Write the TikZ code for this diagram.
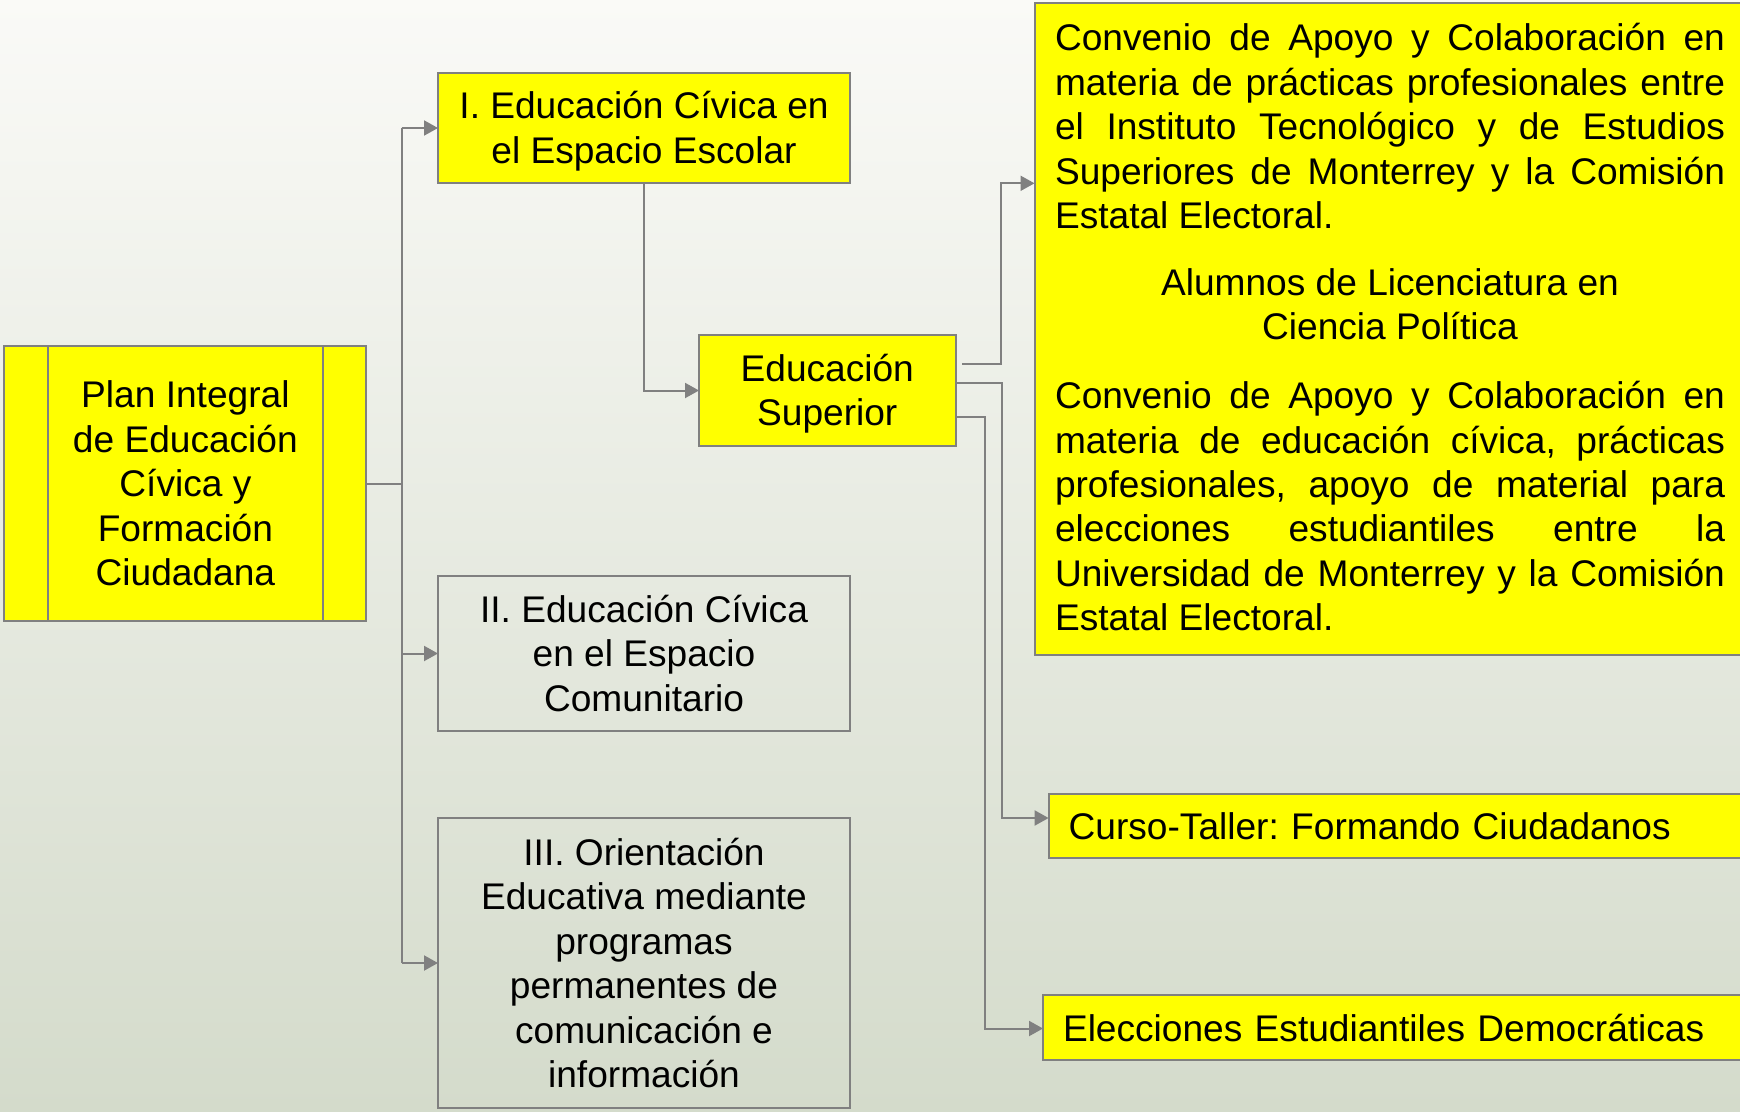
\documentclass[tikz,border=0pt]{standalone}
\usepackage{fontspec}
\setmainfont{Liberation Sans}
\usetikzlibrary{arrows.meta,calc}
\definecolor{bgtop}{RGB}{250,250,247}
\definecolor{bgbot}{RGB}{212,219,203}
\definecolor{linegray}{RGB}{128,128,128}
\definecolor{boxyellow}{RGB}{255,255,0}
\newcommand{\pst}{\rule[-0.212em]{0pt}{1.117em}}
\tikzset{
  base/.style={draw=linegray, line width=2pt, inner sep=0pt, outer sep=0pt, anchor=north west,
    font=\fontsize{37.1pt}{44.4pt}\selectfont\frenchspacing, text=black},
  ybox/.style={base, fill=boxyellow},
  gbox/.style={base},
  ln/.style={draw=linegray, line width=2pt},
  arr/.style={ln, -{Triangle[length=14pt,width=15pt]}},
}
\begin{document}
\begin{tikzpicture}[x=1pt,y=-1pt]
\fill[top color=bgtop, bottom color=bgbot] (0,0) rectangle (1740,1111);
\useasboundingbox (0,0) rectangle (1740,1111);

% left column
\node[ybox, minimum width=362pt, minimum height=275pt, align=center] (plan) at (4.4,346)
  {Plan Integral\\de Educación\\Cívica y\\Formación\\Ciudadana};
\draw[ln] ([xshift=43.3pt]plan.north west) -- ([xshift=43.3pt]plan.south west);
\draw[ln] ([xshift=-43.3pt]plan.north east) -- ([xshift=-43.3pt]plan.south east);

% middle column
\node[ybox, minimum width=412pt, minimum height=110pt, align=center] (boxI) at (438,73)
  {\pst I. Educación Cívica en\\el Espacio Escolar\pst};
\node[gbox, minimum width=412pt, minimum height=155pt, align=center] (boxII) at (438,576)
  {II. Educación Cívica\\en el Espacio\\Comunitario};
\node[gbox, minimum width=412pt, minimum height=290pt, align=center] (boxIII) at (438,818)
  {III. Orientación\\Educativa mediante\\programas\\permanentes de\\comunicación e\\información};
\node[ybox, minimum width=256.5pt, minimum height=111pt, align=center] (es) at (699,335)
  {\pst Educación\\Superior\pst};

% right column
\node[ybox, minimum height=651.4pt, inner xsep=20.5pt, text width=670pt, align=justify] (conv) at (1034.5,3.3)
  {\setlength\parindent{0pt}\tolerance=10000\hbadness=10000
   Convenio de Apoyo y Colaboración en\linebreak
   materia de prácticas profesionales entre\linebreak
   el Instituto Tecnológico y de Estudios\linebreak
   Superiores de Monterrey y la Comisión\linebreak
   Estatal Electoral.\par
   \vspace{22.5pt}
   {\centering Alumnos de Licenciatura en\par Ciencia Política\par}
   \vspace{24.5pt}
   Convenio de Apoyo y Colaboración en\linebreak
   materia de educación cívica, prácticas\linebreak
   profesionales, apoyo de material para\linebreak
   elecciones estudiantiles entre la\linebreak
   Universidad de Monterrey y la Comisión\linebreak
   Estatal Electoral.\par
   \vspace{3.5pt}};
\node[ybox, minimum height=64pt, inner xsep=20pt, text width=660pt, align=left] (curso) at (1048.6,794)
  {Curso-Taller: Formando Ciudadanos};
\node[ybox, minimum height=64.3pt, inner xsep=20pt, text width=660pt, align=left] (elec) at (1043,995.4)
  {Elecciones Estudiantiles Democráticas};

% connectors from plan
\coordinate (tk) at (401.7,0);
\draw[ln] (plan.east) -- (plan.east -| tk);
\draw[ln] (boxI.west -| tk) -- (boxIII.west -| tk);
\draw[arr] (boxI.west -| tk) -- (boxI.west);
\draw[arr] (boxII.west -| tk) -- (boxII.west);
\draw[arr] (boxIII.west -| tk) -- (boxIII.west);
\draw[arr] (boxI.south) |- (es.west);

% connectors from Educación Superior
\coordinate (e1) at (962.3,364);
\coordinate (c1) at (1000.5,183.3);
\draw[arr] (e1) -| (c1) -- (c1 -| conv.west);
\coordinate (y2) at (0,383);
\coordinate (c2) at (1002,818);
\draw[arr] (es.east |- y2) -| (c2) -- (c2 -| curso.west);
\coordinate (y3) at (0,417);
\coordinate (c3) at (985,1028.5);
\draw[arr] (es.east |- y3) -| (c3) -- (c3 -| elec.west);
\end{tikzpicture}
\end{document}
